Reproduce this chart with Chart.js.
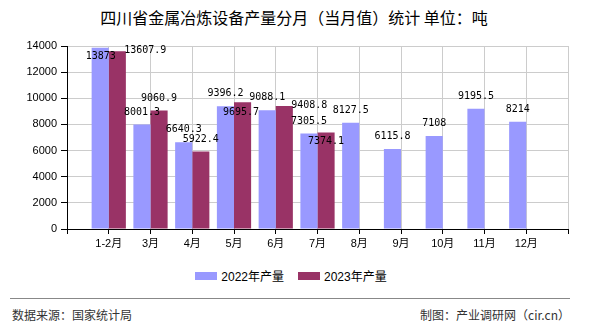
<!DOCTYPE html>
<html lang="zh">
<head>
<meta charset="utf-8">
<script src="https://cdn.jsdelivr.net/npm/chart.js@4.4.1/dist/chart.umd.min.js"></script>
<style>
  html, body { margin: 0; padding: 0; background: #fff; }
  body { width: 590px; height: 330px; position: relative; overflow: hidden;
         font-family: "Liberation Sans", "Noto Sans CJK SC", sans-serif; }
  #title { position: absolute; left: 0; width: 588px; top: 7px; text-align: center;
           font-size: 16px; line-height: 20px; color: #000; font-family: "Noto Sans CJK SC", sans-serif; }
  #wrap { position: absolute; left: 0; top: 0; width: 590px; height: 260px; }
  #legend { position: absolute; left: 0; width: 582px; top: 269px; text-align: center;
            font-size: 12px; line-height: 16px; color: #000; }
  #legend span.item { display: inline-block; margin: 0 7px; }
  #legend i { display: inline-block; width: 22px; height: 8px; vertical-align: 1px; margin-right: 4px; }
  #sep { position: absolute; left: 10px; width: 560px; top: 298px; height: 0; border-top: 1px solid #888; }
  .foot { position: absolute; top: 307px; font-size: 12px; line-height: 16px; color: #333;
          font-family: "Noto Sans CJK SC", sans-serif; }
  #src { left: 12px; }
  #by { right: 20px; }
</style>
</head>
<body>
<div id="title">四川省金属冶炼设备产量分月（当月值）统计 单位：吨</div>
<div id="wrap"><canvas id="chart" width="590" height="260"></canvas></div>
<div id="legend"></div>
<div id="sep"></div>
<div class="foot" id="src">数据来源：国家统计局</div>
<div class="foot" id="by">制图：产业调研网（cir.cn）</div>

<script>
// 数据（吨）
const meses = ['1-2月', '3月', '4月', '5月', '6月', '7月', '8月', '9月', '10月', '11月', '12月'];
const prod2022 = [13873, 8001.3, 6640.3, 9396.2, 9088.1, 7305.5, 8127.5, 6115.8, 7108, 9195.5, 8214];
const prod2023 = [13607.9, 9060.9, 5922.4, 9695.7, 9408.8, 7374.1];
const yTicks = [0, 2000, 4000, 6000, 8000, 10000, 12000, 14000];

const series = [
    { label: '2022年产量', values: prod2022, color: '#9999FF' },
    { label: '2023年产量', values: prod2023, color: '#993366' }
];

// eixo com uma posição vazia em cada ponta (barras ficam centradas nas linhas)
const axisLabels = [''].concat(meses, ['']);
const pad = v => [null].concat(meses.map((m, i) => v[i] ?? null), [null]);

// rótulos que o original desloca para não sobrepor: [dx, dy]
const nudge = { '0-1': [0.5, 21.5], '1-1': [28, 11.5], '1-4': [-1.5, 22.5], '1-5': [25, 11.5], '1-6': [0, 21.5] };

const valueLabels = {
    id: 'valueLabels',
    afterDatasetsDraw(chart) {
        const ctx = chart.ctx;
        ctx.save();
        ctx.font = '10px "DejaVu Sans Mono", monospace';
        ctx.fillStyle = '#000';
        ctx.textAlign = 'center';
        ctx.textBaseline = 'middle';
        chart.data.datasets.forEach((ds, di) => {
            chart.getDatasetMeta(di).data.forEach((bar, i) => {
                const v = ds.data[i];
                if (v == null) return;
                const n = nudge[di + '-' + i] || [0, 0];
                ctx.fillText(String(v), bar.x + n[0], bar.y - 12.5 + n[1]);
            });
        });
        ctx.restore();
    }
};

Chart.defaults.font.family = '"Liberation Sans", "Noto Sans CJK SC", sans-serif';
Chart.defaults.color = '#000';

new Chart(document.getElementById('chart').getContext('2d'), {
    type: 'bar',
    data: {
        labels: axisLabels,
        datasets: series.map(s => ({
            label: s.label,
            data: pad(s.values),
            backgroundColor: s.color,
            borderWidth: 0,
            categoryPercentage: 0.82,
            barPercentage: 1.0
        }))
    },
    options: {
        responsive: false,
        animation: false,
        layout: { padding: { top: 46, right: 22, left: 0, bottom: 0 } },
        plugins: { legend: { display: false }, tooltip: { enabled: false } },
        scales: {
            x: {
                offset: false,
                grid: { offset: false, color: '#cccccc', tickColor: '#000', tickLength: 5 },
                border: { color: '#000' },
                ticks: { autoSkip: false, maxRotation: 0, padding: 3, font: { size: 11 } },
                afterFit: s => { s.height = 31; }
            },
            y: {
                min: 0,
                max: 14000,
                afterBuildTicks: s => { s.ticks = yTicks.map(v => ({ value: v })); },
                grid: { color: '#cccccc', tickColor: '#000', tickLength: 6 },
                border: { color: '#000' },
                ticks: { padding: 4, font: { size: 11 }, callback: v => String(v) },
                afterFit: s => { s.width = 67; }
            }
        }
    },
    plugins: [valueLabels]
});

// legenda
document.getElementById('legend').innerHTML = series.map(s =>
    `<span class="item"><i style="background:${s.color}"></i>${s.label}</span>`).join('');
</script>
</body>
</html>
